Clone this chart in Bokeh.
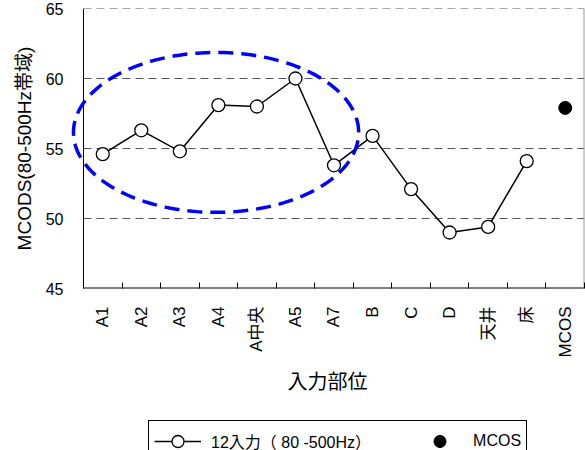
import numpy as np
from bokeh.plotting import figure
from bokeh.layouts import column
from bokeh.models import (Range1d, FixedTicker, Legend, LegendItem, PolyAnnotation,
                          ColumnDataSource, Span)
from bokeh.embed import file_html
from bokeh.resources import INLINE

# ---- data ----
categories = ["A1", "A2", "A3", "A4", "A中央", "A5", "A7", "B", "C", "D", "天井", "床", "MCOS"]
input_parts = categories[:12]
mcods_12 = [54.6, 56.3, 54.8, 58.1, 58.0, 60.0, 53.8, 55.9, 52.1, 49.0, 49.4, 54.1]
mcos_cat = ["MCOS"]
mcos_val = [57.9]
y_ticks = [45, 50, 55, 60, 65]
grid_levels = [50, 55, 60, 65]
series_names = ["12入力（ 80 -500Hz）", "MCOS"]

n = len(categories)
pos = {c: i + 0.5 for i, c in enumerate(categories)}

FONT = "Liberation Sans, Noto Sans CJK JP"
Y0, Y1 = 45, 65
X_PAD = 0.337  # extra room left of the y axis so the ellipse is not cut

p = figure(width=585, height=415, output_backend="svg", toolbar_location=None,
           x_range=Range1d(-X_PAD, n), y_range=Range1d(Y0, Y1),
           min_border_left=70, min_border_right=1, min_border_top=8, min_border_bottom=127)
p.background_fill_color = "white"
p.border_fill_color = "white"
p.outline_line_color = None

# x axis
p.xaxis.ticker = FixedTicker(ticks=[pos[c] for c in categories],
                             minor_ticks=list(range(0, n + 1)))
p.xaxis.major_label_overrides = {pos[c]: c for c in categories}
p.xaxis.major_tick_line_color = None
p.xaxis.major_tick_in = 0
p.xaxis.major_tick_out = 0
p.xaxis.minor_tick_line_color = "black"
p.xaxis.minor_tick_in = 6
p.xaxis.minor_tick_out = 0
p.xaxis.major_label_orientation = np.pi / 2
p.xaxis.major_label_standoff = 18
p.xaxis.major_label_text_font = FONT
p.xaxis.major_label_text_font_size = "17px"
p.xaxis.major_label_text_color = "black"
p.xaxis.axis_label = "入力部位"
p.xaxis.axis_label_text_font = FONT
p.xaxis.axis_label_text_font_size = "20px"
p.xaxis.axis_label_text_font_style = "normal"
p.xaxis.axis_label_text_color = "black"
p.xaxis.axis_label_standoff = 10
p.xaxis.axis_line_color = None

# y axis
p.yaxis.ticker = FixedTicker(ticks=y_ticks)
p.yaxis.major_tick_line_color = None
p.yaxis.major_tick_in = 0
p.yaxis.major_tick_out = 0
p.yaxis.minor_tick_line_color = None
p.yaxis.major_label_standoff = 7
p.yaxis.major_label_text_font = FONT
p.yaxis.major_label_text_font_size = "16px"
p.yaxis.major_label_text_color = "black"
p.yaxis.axis_label = "MCODS(80-500Hz帯域)"
p.yaxis.axis_label_text_font = FONT
p.yaxis.axis_label_text_font_size = "19px"
p.yaxis.axis_label_text_font_style = "normal"
p.yaxis.axis_label_text_color = "black"
p.yaxis.axis_label_standoff = 8
p.yaxis.axis_line_color = None

p.xgrid.grid_line_color = None
p.ygrid.grid_line_color = None

# grid lines (start at the y axis)
p.segment(x0=[0] * len(grid_levels), x1=[n] * len(grid_levels), y0=grid_levels, y1=grid_levels,
          line_color="#555555", line_dash="8 5", line_width=1)
# frame: y axis line, bottom line, right border
p.add_layout(Span(location=0, dimension="height", line_color="black", line_width=1))
p.segment(x0=[0], x1=[n], y0=[Y0], y1=[Y0], line_color="black", line_width=2)
p.segment(x0=[n], x1=[n], y0=[Y0], y1=[Y1], line_color="#999999", line_width=2)

# highlight ellipse
ell_cx, ell_cy, ell_a, ell_b = 3.44, 56.15, 3.70, 5.71
t = np.linspace(0, 2 * np.pi, 200)
ell = PolyAnnotation(xs=list(ell_cx + ell_a * np.cos(t)), ys=list(ell_cy + ell_b * np.sin(t)),
                     fill_alpha=0, line_color="#0000ff", line_alpha=1, line_width=3.5,
                     line_dash="15 8")
p.add_layout(ell)

src = ColumnDataSource(dict(x=[pos[c] for c in input_parts], y=mcods_12))
p.line("x", "y", source=src, line_color="black", line_width=1.5)
p.scatter("x", "y", source=src, marker="circle", size=13,
          fill_color="white", line_color="black", line_width=1.3)
mcos_src = ColumnDataSource(dict(x=[pos[c] for c in mcos_cat], y=mcos_val))
p.scatter("x", "y", source=mcos_src, marker="circle", size=13,
          fill_color="black", line_color="black")

# ---- legend strip below the chart (key glyphs only, nothing plotted) ----
lg = figure(width=585, height=35, output_backend="svg", toolbar_location=None,
            x_range=Range1d(0, 1), y_range=Range1d(0, 1),
            x_axis_location=None, y_axis_location=None,
            min_border_left=70, min_border_right=1, min_border_top=0, min_border_bottom=0)
lg.outline_line_color = None
lg.grid.grid_line_color = None
key_src = ColumnDataSource(dict(x=[np.nan], y=[np.nan]))
l1 = lg.line("x", "y", source=key_src, line_color="black", line_width=1.5)
c1 = lg.scatter("x", "y", source=key_src, marker="circle", size=11,
                fill_color="white", line_color="black", line_width=1.3)
c2 = lg.scatter("x", "y", source=key_src, marker="circle", size=13,
                fill_color="black", line_color="black")
legend = Legend(items=[LegendItem(label=series_names[0], renderers=[l1, c1]),
                       LegendItem(label=series_names[1], renderers=[c2])],
                orientation="horizontal", location=(78, -12))
legend.label_text_font = FONT
legend.label_text_font_size = "16px"
legend.label_text_color = "black"
legend.border_line_color = "black"
legend.border_line_alpha = 1
legend.border_line_width = 1
legend.background_fill_color = "white"
legend.background_fill_alpha = 1
legend.glyph_width = 47
legend.glyph_height = 30
legend.spacing = 45
legend.label_standoff = 10
legend.padding = 5
legend.margin = 0
lg.add_layout(legend)

open("out.html", "w").write(file_html(column(p, lg, spacing=0), INLINE))
